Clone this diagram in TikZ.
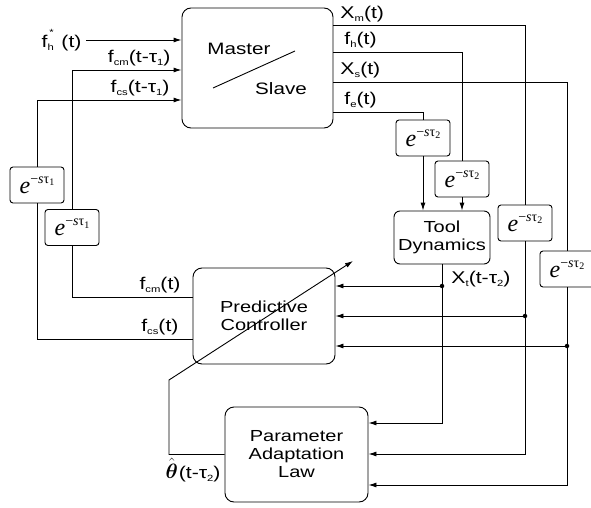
\documentclass[tikz,border=0pt]{standalone}
\usepackage{amsmath}
\usepackage[no-math]{fontspec}
\setmainfont[FakeStretch=1.25]{Liberation Sans}
\newfontfamily\dlyfont{Liberation Serif}
\usetikzlibrary{arrows.meta}

% transport delay e^{-s tau_i}
\newcommand\dly[1]{{\dlyfont\fontsize{24}{24}\selectfont\textit{e}\raisebox{0.42em}{\fontsize{14}{14}\selectfont −\textit{s}τ\raisebox{-0.2em}{\fontsize{10}{10}\selectfont #1}}}}
% small sub/superscripts of the signal labels
\newcommand\lsub[1]{\raisebox{-0.35ex}{\fontsize{9}{9}\selectfont #1}}
\newcommand\lsup[1]{\raisebox{1.3ex}{\fontsize{9}{9}\selectfont #1}}

\tikzset{
  blk/.style={draw, line width=0.9pt, rounded corners=9pt, align=center,
              font=\fontsize{16}{18}\selectfont, inner sep=0pt},
  dlybox/.style={draw, line width=0.9pt, rounded corners=3pt,
                 minimum width=54pt, minimum height=36pt, inner sep=0pt, fill=white},
  lbl/.style={font=\fontsize{17}{19}\selectfont, inner sep=1pt},
  txt/.style={font=\fontsize{16.5}{18}\selectfont, inner sep=0pt},
  arr/.style={-{Latex[length=8pt,width=5pt]}},
  jdot/.style={circle, fill, inner sep=0pt, minimum size=4.5pt}
}

\begin{document}
\begin{tikzpicture}[x=1pt, y=-1pt, every path/.style={line width=0.9pt}]
\useasboundingbox (0,0) rectangle (591,508);

% main blocks
\node[blk, minimum width=151pt, minimum height=120pt] (ms) at (257.5,68) {};
\node[txt] (mtxt) at (239,49) {Master};
\node[txt] (stxt) at (281,89) {Slave};
\coordinate (msa) at (213,88);
\coordinate (msb) at (295,51);
\draw (msa) -- (msb);

\node[blk, minimum width=142pt, minimum height=96pt] (pc) at (264,316) {Predictive\\Controller};
\node[blk, minimum width=96pt, minimum height=53pt, rounded corners=6pt] (tool) at (442,237.5) {Tool\\Dynamics};
\node[blk, minimum width=143pt, minimum height=95pt] (pal) at (296.5,454.5) {Parameter\\Adaptation\\Law};

% delay blocks
\node[dlybox] (d1) at (37,185) {\dly{1}};
\node[dlybox] (d2) at (72,227.5) {\dly{1}};
\node[dlybox] (dA) at (423,138) {\dly{2}};
\node[dlybox] (dB) at (462,179) {\dly{2}};
\node[dlybox] (dC) at (525,223) {\dly{2}};
\node[dlybox] (dD) at (567,269) {\dly{2}};

% operator force input
\coordinate (fhin) at (86,40);
\draw[arr] (fhin) -- (fhin -| ms.west);
\node[lbl, anchor=east] (lfh) at (83,40) {f\rlap{\hspace{0.1em}\lsup{*}}\lsub{h}\hspace{0.45em}(t)};

% controller outputs delayed back to master/slave
\draw (pc.west |- 0,297) -| (d2.south);
\draw[arr] (d2.north) |- (ms.west |- 0,70);
\draw (pc.west |- 0,339) -| (d1.south);
\draw[arr] (d1.north) |- (ms.west |- 0,100);
\node[lbl, anchor=south east] (lfcmd) at (172,67) {f\lsub{cm}(t-τ\lsub{1})};
\node[lbl, anchor=south east] (lfcsd) at (171,97) {f\lsub{cs}(t-τ\lsub{1})};
\node[lbl, anchor=south east] (lfcm) at (182,294) {f\lsub{cm}(t)};
\node[lbl, anchor=south east] (lfcs) at (180,336) {f\lsub{cs}(t)};

% master/slave outputs
\draw (ms.east |- 0,112) -| (dA.north);
\draw[arr] (dA.south) -- (dA.south |- tool.north);
\draw (ms.east |- 0,52) -| (dB.north);
\draw[arr] (dB.south) -- (dB.south |- tool.north);
\draw (ms.east |- 0,25) -| (dC.north);
\draw (ms.east |- 0,82) -| (dD.north);
\node[lbl, anchor=south west] (lxm) at (339,23) {X\lsub{m}(t)};
\node[lbl, anchor=south west] (lfh2) at (343,49) {f\lsub{h}(t)};
\node[lbl, anchor=south west] (lxs) at (339,79) {X\lsub{s}(t)};
\node[lbl, anchor=south west] (lfe) at (343,109) {f\lsub{e}(t)};

% feedback to controller and adaptation law
\coordinate (j1) at (442,286);
\coordinate (j2) at (525,316);
\coordinate (j3) at (567,346);
\draw[arr] (tool.south) |- (pal.east |- 0,423);
\draw[arr] (dC.south) |- (pal.east |- 0,454);
\draw[arr] (dD.south) |- (pal.east |- 0,485);
\draw[arr] (j1) -- (pc.east |- j1);
\draw[arr] (j2) -- (pc.east |- j2);
\draw[arr] (j3) -- (pc.east |- j3);
\node[jdot] (n1) at (j1) {};
\node[jdot] (n2) at (j2) {};
\node[jdot] (n3) at (j3) {};
\node[lbl, anchor=west] (lxt) at (450,279) {X\lsub{t}(t-τ\lsub{2})};

% parameter estimate tuning the controller
\coordinate (kink) at (169,380);
\coordinate (tip) at (353,261);
\draw[arr] (pal.west) -| (kink) -- (tip);
\node[lbl, anchor=north east] (lth) at (222,457) {{\fontsize{20}{20}\selectfont$\hat{\boldsymbol{\theta}}$}\hspace{0.05em}(t-τ\lsub{2})};
\end{tikzpicture}
\end{document}
